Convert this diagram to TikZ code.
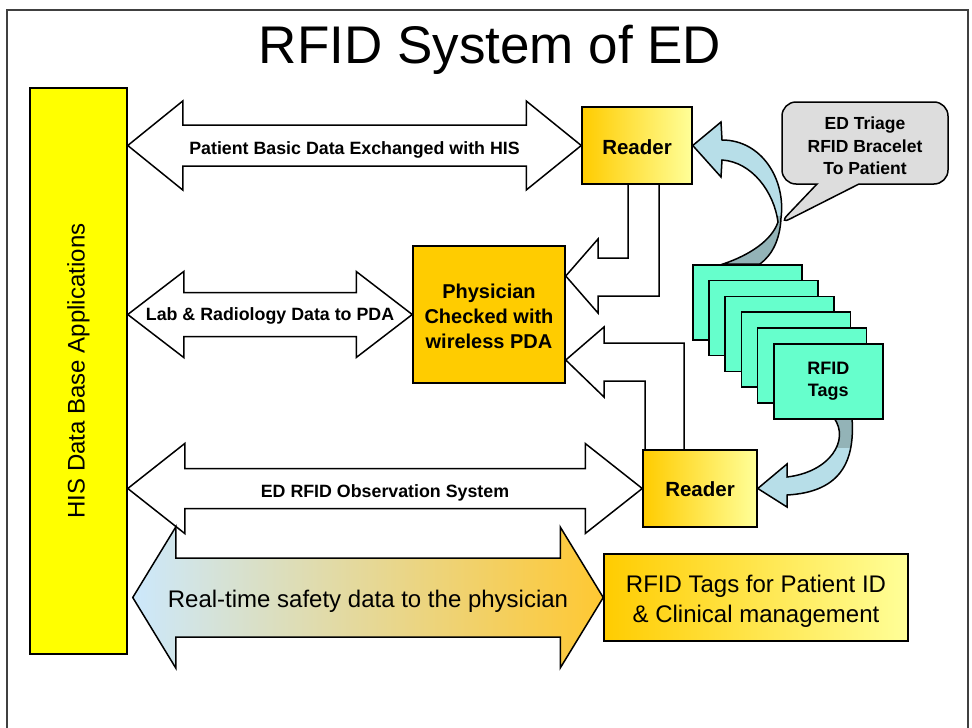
\documentclass[tikz,border=0pt]{standalone}
\usepackage{fontspec}
\setmainfont{Liberation Sans}
\usetikzlibrary{calc,shapes.callouts}
\definecolor{hisyellow}{HTML}{FFFF00}
\definecolor{gold}{HTML}{FFCC00}
\definecolor{paleyellow}{HTML}{FFFF99}
\definecolor{mint}{HTML}{66FFCC}
\definecolor{ribbonlight}{HTML}{B7DEE8}
\definecolor{ribbondark}{HTML}{93B3B7}
\definecolor{bubblegray}{HTML}{DDDDDD}
\definecolor{skyblue}{HTML}{CCE8FC}
\definecolor{beige}{HTML}{E6DEC4}
\definecolor{orangey}{HTML}{FFC832}
\definecolor{framegray}{HTML}{404040}
\newcommand\fsz[2]{\fontsize{#1}{#2}\selectfont}
\pgfdeclarelayer{bg}
\pgfsetlayers{bg,main}
% #1 style, #2 left tip, #3 right tip, #4 head half height, #5 shaft half height, #6 head length
\newcommand\dblarrow[6]{%
  \path[#1] let \p1=(#2), \p2=(#3) in
    (\x1,\y1) -- (\x1+#6pt,\y1+#4pt) -- (\x1+#6pt,\y1+#5pt) -- (\x2-#6pt,\y1+#5pt)
    -- (\x2-#6pt,\y1+#4pt) -- (\x2,\y1) -- (\x2-#6pt,\y1-#4pt) -- (\x2-#6pt,\y1-#5pt)
    -- (\x1+#6pt,\y1-#5pt) -- (\x1+#6pt,\y1-#4pt) -- cycle;}
\begin{document}
\begin{tikzpicture}[x=1pt,y=-1pt,
  outl/.style={draw=black,line width=1.5pt,line join=miter},
  blockarrow/.style={outl,fill=white},
  bigshade/.style={outl,left color=skyblue,middle color=beige,right color=orangey},
  gradbox/.style={outl,left color=gold,right color=paleyellow,inner sep=0pt},
  tagcard/.style={outl,fill=mint,minimum width=109pt,minimum height=75pt,inner sep=0pt},
  lbl/.style={font=\fsz{17.8}{20}\bfseries,inner sep=0pt},
  ]
\useasboundingbox (0,0) rectangle (972,728);
\draw[framegray,line width=1.2pt] (7,728) -- (7,10) -- (968,10) -- (968,728);

\node (title) at (490,50) {\fsz{53}{60}RFID System of ED};

% HIS bar
\node[outl,fill=hisyellow,minimum width=97pt,minimum height=566pt,inner sep=0pt] (his) at (78.5,371) {};
\node[rotate=90,font=\fsz{24}{28}] (histext) at (his.center) {HIS Data Base Applications};

% boxes
\node[gradbox,minimum width=110pt,minimum height=77pt] (reader1) at (637,145.5) {};
\node[font=\fsz{20.5}{24}\bfseries] (reader1txt) at ($(reader1.center)+(0,2)$) {Reader};
\node[outl,fill=gold,minimum width=152pt,minimum height=137pt,inner sep=0pt] (phys) at (489,314.5) {};
\node[align=center,font=\fsz{20}{25}\bfseries] (phystxt) at ($(phys.center)+(0,2)$) {Physician\\Checked with\\wireless PDA};
\node[gradbox,minimum width=114pt,minimum height=77pt] (reader2) at (700,488.5) {};
\node[font=\fsz{20.5}{24}\bfseries] (reader2txt) at ($(reader2.center)+(0,1)$) {Reader};
\node[gradbox,minimum width=304pt,minimum height=87pt] (tagsbox) at (756,597.5) {};
\node[align=center,font=\fsz{24}{30}] (tagstxt) at ($(tagsbox.center)+(0,3.5)$) {RFID Tags for Patient ID\\\& Clinical management};

% tag cards
\foreach \i in {0,...,4}
  \node[tagcard,anchor=north west] (tag\i) at ({692+16.2*\i},{264+15.8*\i}) {};
\node[tagcard,anchor=north west,align=center,font=\fsz{18}{22}\bfseries] (tag5) at (773,343) {RFID\\Tags};

\begin{pgfonlayer}{bg}
  % double block arrows
  \dblarrow{blockarrow}{his.east |- reader1.west}{reader1.west}{44.5}{20.5}{55}
  \dblarrow{blockarrow}{his.east |- phys.west}{phys.west}{43}{22}{56}
  \dblarrow{blockarrow}{his.east |- reader2.west}{reader2.west}{45}{20}{57}
  \dblarrow{bigshade}{$(his.east |- tagsbox.west)+(5,0)$}{tagsbox.west}{70.5}{39.5}{43}

  % bent arrows from readers to physician
  \draw[blockarrow] (628,0 |- reader1.south) -- (628,258) -- (598,258) -- (598,239)
     -- (phys.east |- 0,276) -- (598,313) -- (598,296) -- (659,296) -- (659,0 |- reader1.south);
  \draw[blockarrow] (645,0 |- reader2.north) -- (645,381) -- (604,381) -- (604,397)
     -- (phys.east |- 0,360) -- (604,327) -- (604,343) -- (684,343) -- (684,0 |- reader2.north);

  % curved ribbon arrows
  \path[save path=\ribA] (723,264) .. controls (750,255) and (772,240) .. (778,222)
     .. controls (774,192) and (752,162) .. (722,160) -- (721,177) -- (reader1.east)
     -- (721,122) -- (722,140) .. controls (762,140) and (786,180) .. (781,218)
     .. controls (780,240) and (772,255) .. (760,264) -- cycle;
  \fill[ribbonlight,use path=\ribA];
  \begin{scope}
    \clip (700,216) rectangle (800,270);
    \fill[ribbondark,use path=\ribA];
  \end{scope}
  \draw[outl,use path=\ribA];

  \path[save path=\ribB] (834,418) .. controls (850,440) and (830,472) .. (787,477)
     -- (787,464) -- (reader2.east) -- (787,507) -- (787,495)
     .. controls (842,492) and (855,460) .. (852,418) -- cycle;
  \fill[ribbonlight,use path=\ribB];
  \begin{scope}
    \clip (800,416) rectangle (870,447);
    \fill[ribbondark,use path=\ribB];
  \end{scope}
  \draw[outl,use path=\ribB];
\end{pgfonlayer}

% callout bubble
\node[rectangle callout,outl,fill=bubblegray,rounded corners=14pt,minimum width=166pt,
  minimum height=82pt,inner sep=0pt,callout absolute pointer={(778,225)},
  callout pointer width=42pt] (bubble) at (865,143) {};
\node[align=center,font=\fsz{17.5}{22.5}\bfseries] (bubbletxt) at ($(bubble.center)+(0,3)$)
  {ED Triage\\RFID Bracelet\\To Patient};

% arrow labels
\node[lbl] (lab1) at ($(his.east |- reader1.west)!0.5!(reader1.west)+(0,4)$) {Patient Basic Data Exchanged with HIS};
\node[lbl] (lab2) at ($(his.east |- phys.west)!0.5!(phys.west)+(0,1)$) {Lab \& Radiology Data to PDA};
\node[lbl] (lab3) at ($(his.east |- reader2.west)!0.5!(reader2.west)+(0,4)$) {ED RFID Observation System};
\node[font=\fsz{24}{28},inner sep=0pt] (lab4) at ($(his.east |- tagsbox.west)!0.5!(tagsbox.west)+(2.5,4)$) {Real-time safety data to the physician};
\end{tikzpicture}
\end{document}
